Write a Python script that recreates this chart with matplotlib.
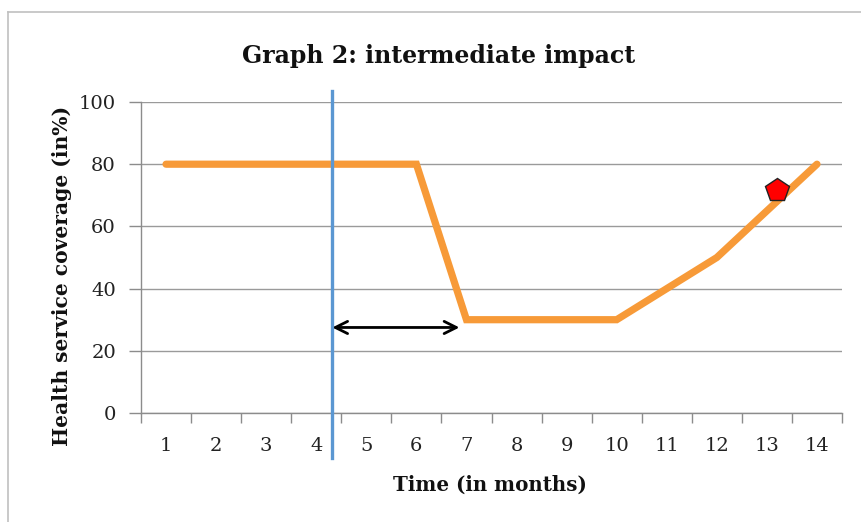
import matplotlib
matplotlib.use("Agg")
import matplotlib.pyplot as plt
from matplotlib.lines import Line2D

months = ["1", "2", "3", "4", "5", "6", "7", "8", "9", "10", "11", "12", "13", "14"]
coverage = [80, 80, 80, 80, 80, 80, 30, 30, 30, 30, 40, 50, 65, 80]
y_ticks = [0, 20, 40, 60, 80, 100]

intervention_x = 4.32
arrow_y = 27.5
arrow_end_x = 6.86
marker_x = 13.2
marker_y = 71.7

title = "Graph 2: intermediate impact"
xlabel = "Time (in months)"
ylabel = "Health service coverage (in%)"

plt.rcParams["font.family"] = ["DejaVu Serif"]

W, H = 861, 522
fig = plt.figure(figsize=(W / 100, H / 100), dpi=100)
fig.patch.set_facecolor("white")

# border of the chart area (top and left visible)
fig.add_artist(Line2D([8 / W, 8 / W], [0, 1 - 12 / H], transform=fig.transFigure,
                      color="#c0c0c0", lw=1.2))
fig.add_artist(Line2D([8 / W, 1], [1 - 12 / H, 1 - 12 / H], transform=fig.transFigure,
                      color="#c0c0c0", lw=1.2))

ax = fig.add_axes([141 / W, 1 - 413 / H, 701 / W, 311 / H])
x = list(range(1, len(months) + 1))

ax.set_xlim(0.5, len(months) + 0.5)
ax.set_ylim(0, 100)
ax.set_yticks(y_ticks)
ax.set_yticklabels([str(v) for v in y_ticks], fontsize=14, color="#222222")
ax.set_xticks(x)
ax.set_xticklabels(months, fontsize=14, color="#222222")
ax.tick_params(axis="x", length=0, pad=17)
ax.set_xticks([i + 0.5 for i in range(0, len(months) + 1)], minor=True)
ax.tick_params(axis="x", which="minor", length=7, color="#8c8c8c", width=1)
ax.tick_params(axis="y", length=9, color="#8c8c8c", width=1, pad=9)

for s in ["top", "right"]:
    ax.spines[s].set_visible(False)
for s in ["left", "bottom"]:
    ax.spines[s].set_color("#8c8c8c")
    ax.spines[s].set_linewidth(1)

ax.grid(axis="y", color="#9a9a9a", lw=1)
ax.set_axisbelow(True)

ax.plot(x, coverage, color="#F79A38", lw=5.2, solid_capstyle="round",
        solid_joinstyle="miter", zorder=3, clip_on=False)

ax.plot([intervention_x, intervention_x], [-14.5, 103.5], color="#5B97D2", lw=2.4,
        zorder=4, clip_on=False)

ax.annotate("", xy=(intervention_x, arrow_y), xytext=(arrow_end_x, arrow_y),
            arrowprops=dict(arrowstyle="<->", color="black", lw=2.0,
                            mutation_scale=22, shrinkA=0, shrinkB=0),
            zorder=5)

ax.plot([marker_x], [marker_y], marker="p", markersize=17.5, markerfacecolor="#FF0000",
        markeredgecolor="#222222", markeredgewidth=1, zorder=6, clip_on=False)

fig.text(439 / W, 1 - 56 / H, title, ha="center", va="center", fontsize=17,
         fontweight="bold", color="#111111")
fig.text(490 / W, 1 - 485 / H, xlabel, ha="center", va="center", fontsize=14.3,
         fontweight="bold", color="#111111")
fig.text(62 / W, 1 - 276 / H, ylabel, ha="center", va="center", rotation=90,
         fontsize=14.6, fontweight="bold", color="#111111")

fig.savefig("out.png", dpi=100, facecolor="white")
